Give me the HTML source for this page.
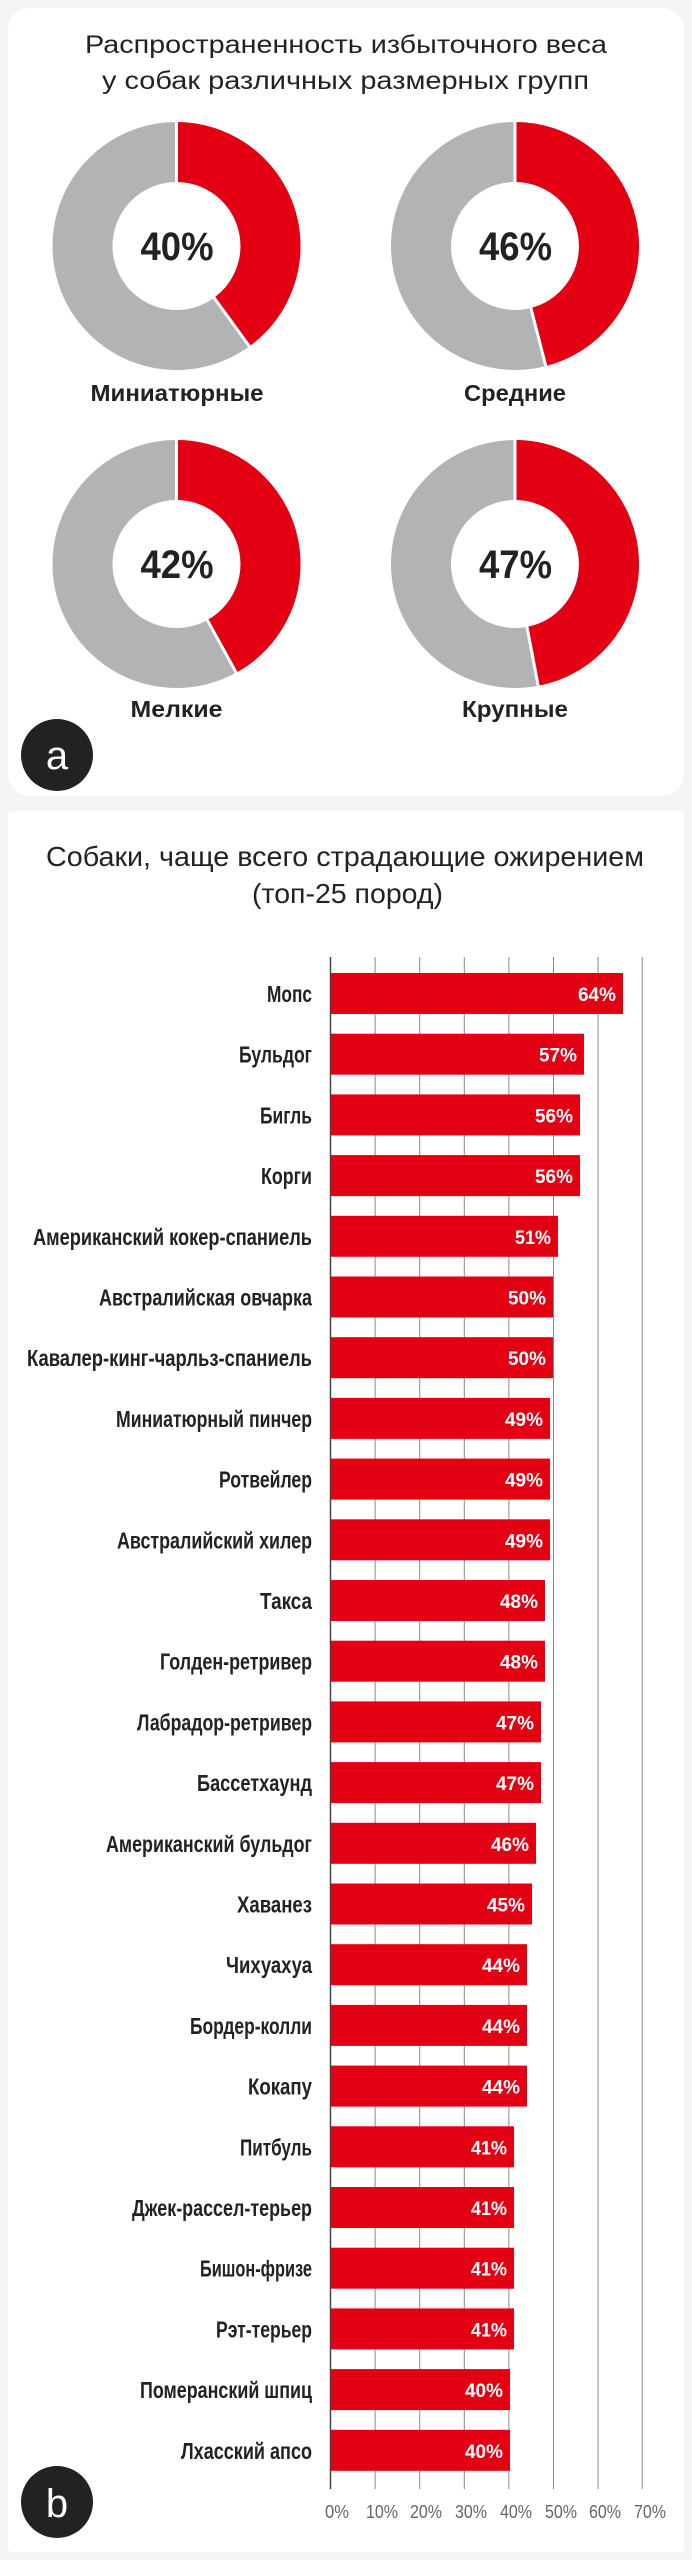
<!DOCTYPE html>
<html><head><meta charset="utf-8"><style>
html,body{margin:0;padding:0;background:#f4f4f4}
svg{display:block}
.t{font-family:"Liberation Sans",sans-serif;fill:#222}
.n{font-family:"Liberation Sans Narrow","Liberation Sans",sans-serif}
.l{font-size:23px;fill:#222;text-anchor:end;font-weight:bold}
.v{font-size:19px;fill:#fff;text-anchor:end;font-weight:bold}
.k{font-size:18px;fill:#666;text-anchor:middle}
</style></head><body>
<svg width="692" height="2560" viewBox="0 0 692 2560" xmlns="http://www.w3.org/2000/svg">
<rect x="0" y="0" width="692" height="2560" fill="#f4f4f4"/>
<rect x="8" y="8" width="676" height="788" rx="22" fill="#fff"/>
<rect x="8" y="811" width="676" height="1741" rx="4" fill="#fff"/>
<text class="t" x="85" y="53" font-size="25" textLength="522" lengthAdjust="spacingAndGlyphs">Распространенность избыточного веса</text>
<text class="t" x="102" y="89" font-size="25" textLength="487" lengthAdjust="spacingAndGlyphs">у собак различных размерных групп</text>

<g transform="translate(176.5,246)">
<circle r="94" fill="none" stroke="#b2b3b5" stroke-width="60"/>
<circle r="94" fill="none" stroke="#e30013" stroke-width="60" stroke-dasharray="236.2 1000" transform="rotate(-90)"/>
<line x1="0" y1="-124" x2="0" y2="-63" stroke="#fff" stroke-width="3"/>
<line x1="0" y1="-124" x2="0" y2="-63" stroke="#fff" stroke-width="3" transform="rotate(144)"/>
<text class="t" x="-36" y="14" font-size="40" font-weight="bold" textLength="73" lengthAdjust="spacingAndGlyphs">40%</text>
<text class="t" x="-86" y="155" font-size="23" font-weight="bold" textLength="173" lengthAdjust="spacingAndGlyphs">Миниатюрные</text>
</g>
<g transform="translate(515,246)">
<circle r="94" fill="none" stroke="#b2b3b5" stroke-width="60"/>
<circle r="94" fill="none" stroke="#e30013" stroke-width="60" stroke-dasharray="271.7 1000" transform="rotate(-90)"/>
<line x1="0" y1="-124" x2="0" y2="-63" stroke="#fff" stroke-width="3"/>
<line x1="0" y1="-124" x2="0" y2="-63" stroke="#fff" stroke-width="3" transform="rotate(165.6)"/>
<text class="t" x="-36" y="14" font-size="40" font-weight="bold" textLength="73" lengthAdjust="spacingAndGlyphs">46%</text>
<text class="t" x="-51" y="155" font-size="23" font-weight="bold" textLength="102" lengthAdjust="spacingAndGlyphs">Средние</text>
</g>
<g transform="translate(176.5,564)">
<circle r="94" fill="none" stroke="#b2b3b5" stroke-width="60"/>
<circle r="94" fill="none" stroke="#e30013" stroke-width="60" stroke-dasharray="248.1 1000" transform="rotate(-90)"/>
<line x1="0" y1="-124" x2="0" y2="-63" stroke="#fff" stroke-width="3"/>
<line x1="0" y1="-124" x2="0" y2="-63" stroke="#fff" stroke-width="3" transform="rotate(151.2)"/>
<text class="t" x="-36" y="14" font-size="40" font-weight="bold" textLength="73" lengthAdjust="spacingAndGlyphs">42%</text>
<text class="t" x="-46" y="153" font-size="23" font-weight="bold" textLength="92" lengthAdjust="spacingAndGlyphs">Мелкие</text>
</g>
<g transform="translate(515,564)">
<circle r="94" fill="none" stroke="#b2b3b5" stroke-width="60"/>
<circle r="94" fill="none" stroke="#e30013" stroke-width="60" stroke-dasharray="277.6 1000" transform="rotate(-90)"/>
<line x1="0" y1="-124" x2="0" y2="-63" stroke="#fff" stroke-width="3"/>
<line x1="0" y1="-124" x2="0" y2="-63" stroke="#fff" stroke-width="3" transform="rotate(169.2)"/>
<text class="t" x="-36" y="14" font-size="40" font-weight="bold" textLength="73" lengthAdjust="spacingAndGlyphs">47%</text>
<text class="t" x="-53" y="153" font-size="23" font-weight="bold" textLength="106" lengthAdjust="spacingAndGlyphs">Крупные</text>
</g>
<circle cx="57" cy="755" r="36" fill="#222"/>
<text x="57" y="769" font-family="Liberation Sans,sans-serif" font-size="40" fill="#fff" text-anchor="middle">a</text>

<text class="n" x="46" y="866" font-size="28" fill="#222" textLength="598" lengthAdjust="spacingAndGlyphs">Собаки, чаще всего страдающие ожирением</text>
<text class="n" x="252" y="903" font-size="28" fill="#222" textLength="191" lengthAdjust="spacingAndGlyphs">(топ-25 пород)</text>

<g stroke="#888" stroke-width="1">
<line x1="375.1" y1="957" x2="375.1" y2="2489"/>
<line x1="419.7" y1="957" x2="419.7" y2="2489"/>
<line x1="464.3" y1="957" x2="464.3" y2="2489"/>
<line x1="508.9" y1="957" x2="508.9" y2="2489"/>
<line x1="553.5" y1="957" x2="553.5" y2="2489"/>
<line x1="598.1" y1="957" x2="598.1" y2="2489"/>
<line x1="642.2" y1="957" x2="642.2" y2="2489"/>
</g>
<line x1="330.5" y1="957" x2="330.5" y2="2489" stroke="#444" stroke-width="1.5"/>

<g fill="#e30013">
<rect x="331" y="973" width="292" height="41"/>
<rect x="331" y="1033.7" width="253" height="41"/>
<rect x="331" y="1094.4" width="249" height="41"/>
<rect x="331" y="1155.1" width="249" height="41"/>
<rect x="331" y="1215.8" width="227" height="41"/>
<rect x="331" y="1276.5" width="222" height="41"/>
<rect x="331" y="1337.2" width="222" height="41"/>
<rect x="331" y="1397.9" width="219" height="41"/>
<rect x="331" y="1458.6" width="219" height="41"/>
<rect x="331" y="1519.3" width="219" height="41"/>
<rect x="331" y="1580" width="214" height="41"/>
<rect x="331" y="1640.7" width="214" height="41"/>
<rect x="331" y="1701.4" width="210" height="41"/>
<rect x="331" y="1762.1" width="210" height="41"/>
<rect x="331" y="1822.8" width="205" height="41"/>
<rect x="331" y="1883.5" width="201" height="41"/>
<rect x="331" y="1944.2" width="196" height="41"/>
<rect x="331" y="2004.9" width="196" height="41"/>
<rect x="331" y="2065.6" width="196" height="41"/>
<rect x="331" y="2126.3" width="183" height="41"/>
<rect x="331" y="2187" width="183" height="41"/>
<rect x="331" y="2247.7" width="183" height="41"/>
<rect x="331" y="2308.4" width="183" height="41"/>
<rect x="331" y="2369.1" width="179" height="41"/>
<rect x="331" y="2429.8" width="179" height="41"/>
</g>

<g class="n">
<text class="l" x="312" y="1002" textLength="45" lengthAdjust="spacingAndGlyphs">Мопс</text><text class="v" x="616" y="1001" textLength="38" lengthAdjust="spacingAndGlyphs">64%</text>
<text class="l" x="312" y="1062.7" textLength="73" lengthAdjust="spacingAndGlyphs">Бульдог</text><text class="v" x="577" y="1061.7" textLength="38" lengthAdjust="spacingAndGlyphs">57%</text>
<text class="l" x="312" y="1123.4" textLength="52" lengthAdjust="spacingAndGlyphs">Бигль</text><text class="v" x="573" y="1122.4" textLength="38" lengthAdjust="spacingAndGlyphs">56%</text>
<text class="l" x="312" y="1184.1" textLength="51" lengthAdjust="spacingAndGlyphs">Корги</text><text class="v" x="573" y="1183.1" textLength="38" lengthAdjust="spacingAndGlyphs">56%</text>
<text class="l" x="312" y="1244.8" textLength="279" lengthAdjust="spacingAndGlyphs">Американский кокер-спаниель</text><text class="v" x="551" y="1243.8" textLength="36" lengthAdjust="spacingAndGlyphs">51%</text>
<text class="l" x="312" y="1305.5" textLength="213" lengthAdjust="spacingAndGlyphs">Австралийская овчарка</text><text class="v" x="546" y="1304.5" textLength="38" lengthAdjust="spacingAndGlyphs">50%</text>
<text class="l" x="312" y="1366.2" textLength="285" lengthAdjust="spacingAndGlyphs">Кавалер-кинг-чарльз-спаниель</text><text class="v" x="546" y="1365.2" textLength="38" lengthAdjust="spacingAndGlyphs">50%</text>
<text class="l" x="312" y="1426.9" textLength="196" lengthAdjust="spacingAndGlyphs">Миниатюрный пинчер</text><text class="v" x="543" y="1425.9" textLength="38" lengthAdjust="spacingAndGlyphs">49%</text>
<text class="l" x="312" y="1487.6" textLength="93" lengthAdjust="spacingAndGlyphs">Ротвейлер</text><text class="v" x="543" y="1486.6" textLength="38" lengthAdjust="spacingAndGlyphs">49%</text>
<text class="l" x="312" y="1548.3" textLength="195" lengthAdjust="spacingAndGlyphs">Австралийский хилер</text><text class="v" x="543" y="1547.3" textLength="38" lengthAdjust="spacingAndGlyphs">49%</text>
<text class="l" x="312" y="1609" textLength="52" lengthAdjust="spacingAndGlyphs">Такса</text><text class="v" x="538" y="1608" textLength="38" lengthAdjust="spacingAndGlyphs">48%</text>
<text class="l" x="312" y="1669.7" textLength="152" lengthAdjust="spacingAndGlyphs">Голден-ретривер</text><text class="v" x="538" y="1668.7" textLength="38" lengthAdjust="spacingAndGlyphs">48%</text>
<text class="l" x="312" y="1730.4" textLength="175" lengthAdjust="spacingAndGlyphs">Лабрадор-ретривер</text><text class="v" x="534" y="1729.4" textLength="38" lengthAdjust="spacingAndGlyphs">47%</text>
<text class="l" x="312" y="1791.1" textLength="115" lengthAdjust="spacingAndGlyphs">Бассетхаунд</text><text class="v" x="534" y="1790.1" textLength="38" lengthAdjust="spacingAndGlyphs">47%</text>
<text class="l" x="312" y="1851.8" textLength="206" lengthAdjust="spacingAndGlyphs">Американский бульдог</text><text class="v" x="529" y="1850.8" textLength="38" lengthAdjust="spacingAndGlyphs">46%</text>
<text class="l" x="312" y="1912.5" textLength="75" lengthAdjust="spacingAndGlyphs">Хаванез</text><text class="v" x="525" y="1911.5" textLength="38" lengthAdjust="spacingAndGlyphs">45%</text>
<text class="l" x="312" y="1973.2" textLength="86" lengthAdjust="spacingAndGlyphs">Чихуахуа</text><text class="v" x="520" y="1972.2" textLength="38" lengthAdjust="spacingAndGlyphs">44%</text>
<text class="l" x="312" y="2033.9" textLength="122" lengthAdjust="spacingAndGlyphs">Бордер-колли</text><text class="v" x="520" y="2032.9" textLength="38" lengthAdjust="spacingAndGlyphs">44%</text>
<text class="l" x="312" y="2094.6" textLength="64" lengthAdjust="spacingAndGlyphs">Кокапу</text><text class="v" x="520" y="2093.6" textLength="38" lengthAdjust="spacingAndGlyphs">44%</text>
<text class="l" x="312" y="2155.3" textLength="72" lengthAdjust="spacingAndGlyphs">Питбуль</text><text class="v" x="507" y="2154.3" textLength="36" lengthAdjust="spacingAndGlyphs">41%</text>
<text class="l" x="312" y="2216" textLength="180" lengthAdjust="spacingAndGlyphs">Джек-рассел-терьер</text><text class="v" x="507" y="2215" textLength="36" lengthAdjust="spacingAndGlyphs">41%</text>
<text class="l" x="312" y="2276.7" textLength="112" lengthAdjust="spacingAndGlyphs">Бишон-фризе</text><text class="v" x="507" y="2275.7" textLength="36" lengthAdjust="spacingAndGlyphs">41%</text>
<text class="l" x="312" y="2337.4" textLength="96" lengthAdjust="spacingAndGlyphs">Рэт-терьер</text><text class="v" x="507" y="2336.4" textLength="36" lengthAdjust="spacingAndGlyphs">41%</text>
<text class="l" x="312" y="2398.1" textLength="172" lengthAdjust="spacingAndGlyphs">Померанский шпиц</text><text class="v" x="503" y="2397.1" textLength="38" lengthAdjust="spacingAndGlyphs">40%</text>
<text class="l" x="312" y="2458.8" textLength="131" lengthAdjust="spacingAndGlyphs">Лхасский апсо</text><text class="v" x="503" y="2457.8" textLength="38" lengthAdjust="spacingAndGlyphs">40%</text>
</g>

<g class="n">
<text class="k" x="337" y="2518" textLength="24" lengthAdjust="spacingAndGlyphs">0%</text>
<text class="k" x="382" y="2518" textLength="32" lengthAdjust="spacingAndGlyphs">10%</text>
<text class="k" x="426" y="2518" textLength="32" lengthAdjust="spacingAndGlyphs">20%</text>
<text class="k" x="471" y="2518" textLength="32" lengthAdjust="spacingAndGlyphs">30%</text>
<text class="k" x="516" y="2518" textLength="32" lengthAdjust="spacingAndGlyphs">40%</text>
<text class="k" x="561" y="2518" textLength="32" lengthAdjust="spacingAndGlyphs">50%</text>
<text class="k" x="605" y="2518" textLength="32" lengthAdjust="spacingAndGlyphs">60%</text>
<text class="k" x="650" y="2518" textLength="32" lengthAdjust="spacingAndGlyphs">70%</text>
</g>

<circle cx="57" cy="2502" r="36" fill="#222"/>
<text x="57" y="2517" font-family="Liberation Sans,sans-serif" font-size="40" fill="#fff" text-anchor="middle">b</text>
</svg>
</body></html>
